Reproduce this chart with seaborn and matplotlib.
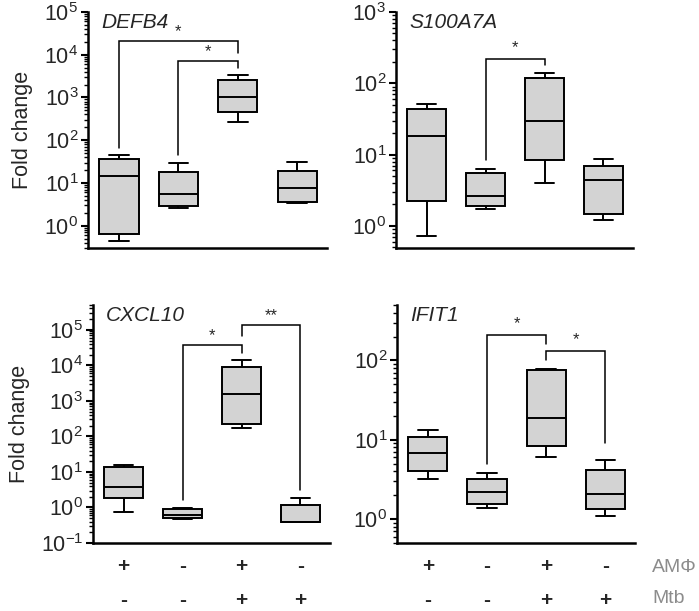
import numpy as np
import pandas as pd
import matplotlib
matplotlib.use("Agg")
import matplotlib.pyplot as plt
import matplotlib.transforms as mtransforms
from matplotlib.ticker import LogLocator, NullFormatter, LogFormatterSciNotation
import seaborn as sns

# ---------------- data ----------------
groups = ["AMphi+ Mtb-", "AMphi- Mtb-", "AMphi+ Mtb+", "AMphi- Mtb+"]
amphi_signs = ["+", "-", "+", "-"]
mtb_signs = ["-", "-", "+", "+"]

# five-number summaries per group: min, Q1, median, Q3, max
defb4 = [[0.43, 0.65, 14.5, 36, 45],
         [2.6, 2.9, 5.5, 18, 29],
         [260, 450, 1000, 2600, 3400],
         [3.3, 3.6, 7.6, 19, 31]]
s100a7a = [[0.72, 2.2, 18.5, 44, 52],
           [1.75, 1.9, 2.6, 5.5, 6.3],
           [4.0, 8.5, 30, 120, 141],
           [1.2, 1.47, 4.4, 6.9, 8.6]]
cxcl10 = [[0.77, 1.83, 3.7, 13.4, 16],
          [0.48, 0.51, 0.6, 0.93, 0.97],
          [168, 218, 1600, 9200, 13800],
          [0.385, 0.39, 0.39, 1.19, 1.8]]
ifit1 = [[3.23, 4.0, 6.9, 10.8, 13.4],
         [1.39, 1.56, 2.2, 3.17, 3.8],
         [6.1, 8.4, 19, 75.5, 78.5],
         [1.08, 1.34, 2.07, 4.2, 5.6]]

# significance brackets: (x_left, x_right, y_left_end, y_top, y_right_end, label)
defb4_sig = [(0, 2, 65, 21000, 11000, "*"), (1, 2, 45, 7200, 5000, "*")]
s100a7a_sig = [(1, 2, 8.4, 220, 178, "*")]
cxcl10_sig = [(1, 2, 1.65, 38000, 23000, "*"), (2, 3, 66000, 135000, 3.2, "**")]
ifit1_sig = [(1, 2, 5.0, 207, 160, "*"), (2, 3, 102, 131, 9.0, "*")]

panels = [
    ("DEFB4", defb4, defb4_sig, (0.3, 1e5), [0.1259, 0.5941, 0.3419, 0.3863], True, False),
    ("S100A7A", s100a7a, s100a7a_sig, (0.49, 1e3), [0.5665, 0.5941, 0.3390, 0.3863], False, False),
    ("CXCL10", cxcl10, cxcl10_sig, (0.1, 5e5), [0.1330, 0.1113, 0.3390, 0.3895], True, True),
    ("IFIT1", ifit1, ifit1_sig, (0.5, 500), [0.5680, 0.1113, 0.3405, 0.3895], False, True),
]

# ---------------- style ----------------
sns.set_style("ticks")
plt.rcParams["font.family"] = ["Liberation Sans", "DejaVu Sans"]
plt.rcParams["mathtext.fontset"] = "custom"
plt.rcParams["mathtext.rm"] = "Liberation Sans"
plt.rcParams["mathtext.it"] = "Liberation Sans:italic"

fig = plt.figure(figsize=(6.99, 6.11), dpi=100)

for title, stats, sigs, ylim, rect, ylab, xlab in panels:
    ax = fig.add_axes(rect)
    rows = []
    for g, vals in zip(groups, stats):
        for v in vals:
            rows.append({"group": g, "value": v})
    df = pd.DataFrame(rows)
    sns.boxplot(data=df, x="group", y="value", order=groups, ax=ax,
                color="#d3d3d3", linecolor="black", linewidth=1.4,
                width=0.66, whis=(0, 100), showfliers=False,
                saturation=1, log_scale=True)
    ax.set_xlim(-0.52, 3.5)
    ax.set_ylim(*ylim)
    ax.set_xlabel("")
    ax.set_ylabel("Fold change" if ylab else "", fontsize=15.5, labelpad=8)
    sns.despine(ax=ax)
    for sp in ("left", "bottom"):
        ax.spines[sp].set_linewidth(1.8)
        ax.spines[sp].set_color("black")
    ax.tick_params(axis="x", length=0, labelbottom=False)
    ax.yaxis.set_major_locator(LogLocator(base=10, numticks=20))
    ax.yaxis.set_major_formatter(LogFormatterSciNotation(base=10))
    ax.yaxis.set_minor_locator(LogLocator(base=10, subs=np.arange(2, 10), numticks=20))
    ax.yaxis.set_minor_formatter(NullFormatter())
    ax.tick_params(axis="y", which="major", direction="out", length=5, width=1.5,
                   labelsize=15.5, pad=2, color="black")
    ax.tick_params(axis="y", which="minor", direction="out", length=3, width=1.0,
                   color="black")

    ax.text(0.055, 0.995, title, transform=ax.transAxes, fontsize=15,
            fontstyle="italic", ha="left", va="top")

    for x1, x2, yl, yt, yr, lab in sigs:
        ax.plot([x1, x1, x2, x2], [yl, yt, yt, yr], color="black", lw=1.1,
                solid_joinstyle="miter")
        ax.text((x1 + x2) / 2, yt * 1.12, lab, ha="center", va="bottom",
                fontsize=12)

    if xlab:
        trans = mtransforms.blended_transform_factory(ax.transData, ax.transAxes)
        for i, (a, m) in enumerate(zip(amphi_signs, mtb_signs)):
            ax.text(i, -0.10, a, transform=trans, ha="center", va="center",
                    fontsize=15, fontweight="bold")
            ax.text(i, -0.24, m, transform=trans, ha="center", va="center",
                    fontsize=15, fontweight="bold")

fig.text(0.933, 0.072, "AMΦ", fontsize=14, color="#8c8c8c", ha="left", va="center")
fig.text(0.934, 0.02, "Mtb", fontsize=14, color="#8c8c8c", ha="left", va="center")

fig.savefig("out.png", dpi=100)
